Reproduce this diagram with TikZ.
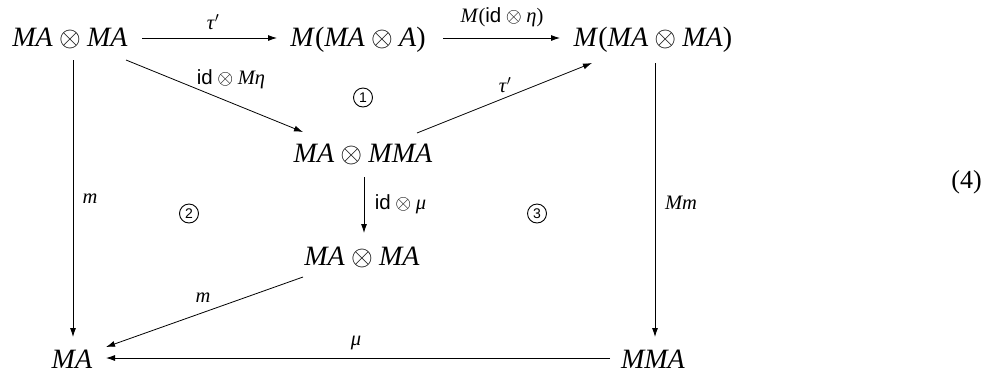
\RequirePackage{fix-cm}
\documentclass[tikz,border=0pt]{standalone}
\usepackage{fontspec}
\setmainfont{Liberation Serif}
\newfontfamily\lsans{Liberation Sans}
\usetikzlibrary{arrows.meta}
\newcommand{\ot}{${}\otimes{}$}
\newcommand{\idf}{{\lsans id}}
\newcommand{\pr}{$'$}
\begin{document}
\begin{tikzpicture}[x=1pt,y=-1pt,
  obj/.style={inner sep=0pt, text height=19pt, text depth=6pt, font=\fontsize{28}{34}\selectfont},
  lbl/.style={inner sep=0pt, font=\fontsize{20.5}{24}\selectfont},
  circ/.style={circle, draw, line width=0.9pt, minimum size=19pt, inner sep=0pt, font=\lsans\fontsize{14}{16}\selectfont},
  arr/.style={-{Latex[length=9pt,width=6pt]}, line width=0.8pt}]
\useasboundingbox (0,0) rectangle (992,373);
\node[obj] (a) at (70,39.5) {\textit{MA}\ot\textit{MA}};
\node[obj] (b) at (358,39.5) {\textit{M}(\textit{MA}\ot\textit{A})};
\node[obj] (c) at (653,39.5) {\textit{M}(\textit{MA}\ot\textit{MA})};
\node[obj] (d) at (363,155.5) {\textit{MA}\ot\textit{MMA}};
\node[obj] (e) at (362,258.5) {\textit{MA}\ot\textit{MA}};
\node[obj] (f) at (72,361.5) {\textit{MA}};
\node[obj] (g) at (653,361.5) {\textit{MMA}};
\node[circ] (n1) at (363,97.5) {1};
\node[circ] (n2) at (189,213.5) {2};
\node[circ] (n3) at (537,213.5) {3};
\node[inner sep=0pt, font=\fontsize{26}{30}\selectfont] (eq) at (966.5,182) {(4)};
\draw[arr] ([shift={(72,-1.5)}]a.center) -- ([shift={(-81,-1.5)}]b.center)
  node[lbl, midway, shift={(3.5,-16)}] (l1) {\textit{τ}\pr};
\draw[arr] ([shift={(85,-1.5)}]b.center) -- ([shift={(-93,-1.5)}]c.center)
  node[lbl, midway, shift={(0.5,-21)}] (l2) {\textit{M}(\idf\ot\textit{η})};
\draw[arr] ([shift={(56,20.5)}]a.center) -- ([shift={(-60,-23.5)}]d.center)
  node[lbl, midway, shift={(16.5,-17)}] (l3) {\idf\ot\textit{Mη}};
\draw[arr] ([shift={(54,-22.5)}]d.center) -- ([shift={(-61,23.5)}]c.center)
  node[lbl, midway, shift={(0.5,-13)}] (l4) {\textit{τ}\pr};
\draw[arr] ([shift={(3,20.5)}]a.center) -- ([shift={(1,-24.5)}]f.center)
  node[lbl, midway, shift={(17,0.5)}] (l5) {\textit{m}};
\draw[arr] ([shift={(2,23.5)}]c.center) -- ([shift={(2,-24.5)}]g.center)
  node[lbl, midway, shift={(26,3)}] (l6) {\textit{Mm}};
\draw[arr] ([shift={(1,21.5)}]d.center) -- ([shift={(2,-25.5)}]e.center)
  node[lbl, midway, shift={(36.5,-1)}] (l7) {\idf\ot\textit{μ}};
\draw[arr] ([shift={(-59,18.5)}]e.center) -- ([shift={(34,-14.5)}]f.center)
  node[lbl, midway, shift={(-1.5,-14)}] (l8) {\textit{m}};
\draw[arr] ([shift={(-43,-3.5)}]g.center) -- ([shift={(34,-3.5)}]f.center)
  node[lbl, midway, shift={(-2,-15.5)}] (l9) {\textit{μ}};
\end{tikzpicture}
\end{document}
